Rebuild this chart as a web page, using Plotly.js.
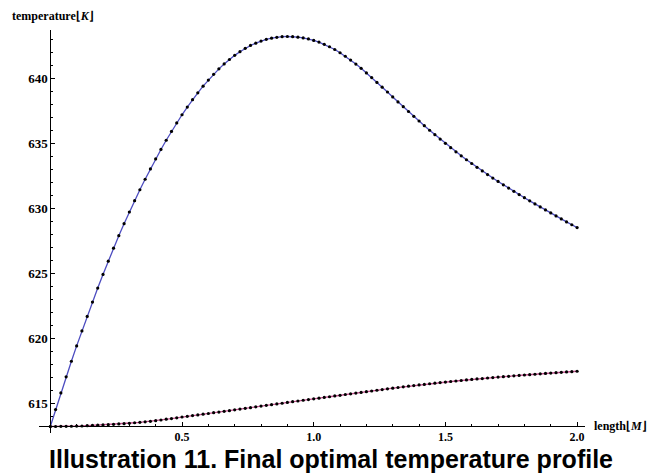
<!DOCTYPE html>
<html>
<head>
<meta charset="utf-8">
<script src="https://cdn.plot.ly/plotly-3.0.1.min.js"></script>
<style>
  html, body { margin: 0; padding: 0; background: #fff; }
  #chart { width: 649px; height: 474px; }
</style>
</head>
<body>
<div id="chart"></div>
<script>
// Reactor length [M]
const lengthM = [
  0.00, 0.02, 0.04, 0.06, 0.08, 0.10, 0.12, 0.14, 0.16, 0.18,
  0.20, 0.22, 0.24, 0.26, 0.28, 0.30, 0.32, 0.34, 0.36, 0.38,
  0.40, 0.42, 0.44, 0.46, 0.48, 0.50, 0.52, 0.54, 0.56, 0.58,
  0.60, 0.62, 0.64, 0.66, 0.68, 0.70, 0.72, 0.74, 0.76, 0.78,
  0.80, 0.82, 0.84, 0.86, 0.88, 0.90, 0.92, 0.94, 0.96, 0.98,
  1.00, 1.02, 1.04, 1.06, 1.08, 1.10, 1.12, 1.14, 1.16, 1.18,
  1.20, 1.22, 1.24, 1.26, 1.28, 1.30, 1.32, 1.34, 1.36, 1.38,
  1.40, 1.42, 1.44, 1.46, 1.48, 1.50, 1.52, 1.54, 1.56, 1.58,
  1.60, 1.62, 1.64, 1.66, 1.68, 1.70, 1.72, 1.74, 1.76, 1.78,
  1.80, 1.82, 1.84, 1.86, 1.88, 1.90, 1.92, 1.94, 1.96, 1.98,
  2.00
];

// Reaction-side temperature [K]
const reactorTemp = [
  613.20, 614.50, 615.78, 617.02, 618.22, 619.40, 620.55, 621.67, 622.77, 623.85,
  624.90, 625.92, 626.92, 627.88, 628.80, 629.70, 630.57, 631.41, 632.22, 633.01,
  633.78, 634.51, 635.22, 635.90, 636.55, 637.18, 637.77, 638.34, 638.87, 639.38,
  639.85, 640.29, 640.71, 641.09, 641.43, 641.75, 642.03, 642.29, 642.51, 642.69,
  642.85, 642.98, 643.07, 643.14, 643.19, 643.20, 643.19, 643.15, 643.09, 643.01,
  642.90, 642.77, 642.60, 642.41, 642.20, 641.95, 641.68, 641.39, 641.08, 640.75,
  640.40, 640.04, 639.67, 639.30, 638.93, 638.55, 638.17, 637.80, 637.43, 637.06,
  636.70, 636.34, 635.99, 635.65, 635.31, 634.98, 634.65, 634.33, 634.02, 633.72,
  633.43, 633.14, 632.86, 632.58, 632.31, 632.05, 631.79, 631.54, 631.29, 631.04,
  630.80, 630.56, 630.32, 630.09, 629.86, 629.63, 629.40, 629.17, 628.94, 628.72,
  628.50
];

// Coolant-side temperature [K]
const coolantTemp = [
  613.20, 613.20, 613.21, 613.21, 613.22, 613.23, 613.24, 613.26, 613.28, 613.30,
  613.32, 613.34, 613.37, 613.40, 613.42, 613.45, 613.49, 613.52, 613.56, 613.60,
  613.65, 613.70, 613.76, 613.81, 613.87, 613.93, 613.98, 614.04, 614.09, 614.15,
  614.20, 614.26, 614.31, 614.37, 614.42, 614.48, 614.54, 614.60, 614.65, 614.71,
  614.77, 614.83, 614.88, 614.94, 614.99, 615.05, 615.11, 615.16, 615.22, 615.27,
  615.33, 615.38, 615.44, 615.49, 615.55, 615.60, 615.66, 615.71, 615.77, 615.82,
  615.88, 615.93, 615.99, 616.04, 616.10, 616.15, 616.20, 616.25, 616.30, 616.35,
  616.40, 616.44, 616.49, 616.53, 616.58, 616.62, 616.66, 616.70, 616.74, 616.78,
  616.82, 616.86, 616.89, 616.93, 616.96, 617.00, 617.03, 617.06, 617.10, 617.13,
  617.16, 617.19, 617.22, 617.25, 617.28, 617.31, 617.34, 617.37, 617.40, 617.42,
  617.45
];

const xTickVals = [0.5, 1.0, 1.5, 2.0];
const xTickText = ['0.5', '1.0', '1.5', '2.0'];
const yTickVals = [615, 620, 625, 630, 635, 640];
const yTickText = ['615', '620', '625', '630', '635', '640'];

// Where the two axes cross and the visible extent
const xOrigin = 0;
const yOrigin = 613.24;
const xRange = [-0.043, 2.03];
const yRange = [612.7, 643.7];

const yMinor = [];
for (let v = 614; v <= 643; v++) if (v % 5 !== 0) yMinor.push(v);
const xMinor = [];
for (let i = 1; i <= 20; i++) if (i % 5 !== 0) xMinor.push(i / 10);

const serif = '"Liberation Serif", "Times New Roman", serif';

const markerStyle = { color: '#000000', size: 3.2 };

const traces = [
  {
    x: lengthM, y: reactorTemp, type: 'scatter', mode: 'lines+markers',
    line: { color: '#4c4cc0', width: 1.3 },
    marker: markerStyle, hoverinfo: 'x+y'
  },
  {
    x: lengthM, y: coolantTemp, type: 'scatter', mode: 'lines+markers',
    line: { color: '#c0508c', width: 1.3 },
    marker: markerStyle, hoverinfo: 'x+y'
  }
];

const layout = {
  width: 649, height: 474,
  margin: { l: 39.4, r: 63.8, t: 29.5, b: 41.3, pad: 0 },
  paper_bgcolor: '#ffffff', plot_bgcolor: '#ffffff',
  showlegend: false,
  xaxis: {
    range: xRange, showgrid: false, zeroline: false,
    showline: true, linecolor: '#000', linewidth: 1,
    anchor: 'free',
    position: (yOrigin - yRange[0]) / (yRange[1] - yRange[0]),
    ticks: 'inside', ticklen: 4, tickwidth: 1, tickcolor: '#000',
    tickmode: 'array', tickvals: xTickVals, ticktext: xTickText,
    tickfont: { family: serif, size: 12, color: '#000', weight: 'bold' },
    minor: { tickmode: 'array', tickvals: xMinor, ticks: 'inside', ticklen: 2, tickcolor: '#000', tickwidth: 1 }
  },
  yaxis: {
    range: yRange, showgrid: false, zeroline: false,
    showline: true, linecolor: '#000', linewidth: 1,
    anchor: 'free',
    position: (xOrigin - xRange[0]) / (xRange[1] - xRange[0]),
    ticks: 'inside', ticklen: 4, tickwidth: 1, tickcolor: '#000',
    tickmode: 'array', tickvals: yTickVals, ticktext: yTickText,
    tickfont: { family: serif, size: 13, color: '#000', weight: 'bold' },
    minor: { tickmode: 'array', tickvals: yMinor, ticks: 'inside', ticklen: 2, tickcolor: '#000', tickwidth: 1 }
  },
  annotations: [
    {
      text: '<b>temperature⌊<i>K</i>⌋</b>',
      xref: 'paper', yref: 'paper', x: -0.054, y: 1,
      xanchor: 'left', yanchor: 'middle', yshift: 14.5, showarrow: false,
      font: { family: serif, size: 12, color: '#000' }
    },
    {
      text: '<b>length⌊<i>M</i>⌋</b>',
      xref: 'paper', yref: 'y', x: 1.0125, y: yOrigin,
      xanchor: 'left', yanchor: 'middle', showarrow: false,
      font: { family: serif, size: 12, color: '#000' }
    },
    {
      text: '<b>Illustration 11. Final optimal temperature profile</b>',
      xref: 'paper', yref: 'paper', x: 0.5357, y: 0,
      xanchor: 'center', yanchor: 'middle', yshift: -25.5, showarrow: false,
      font: { family: '"Liberation Sans", Arial, sans-serif', size: 25, color: '#000' }
    }
  ]
};

Plotly.newPlot('chart', traces, layout, { displayModeBar: false, staticPlot: true });
</script>
</body>
</html>
